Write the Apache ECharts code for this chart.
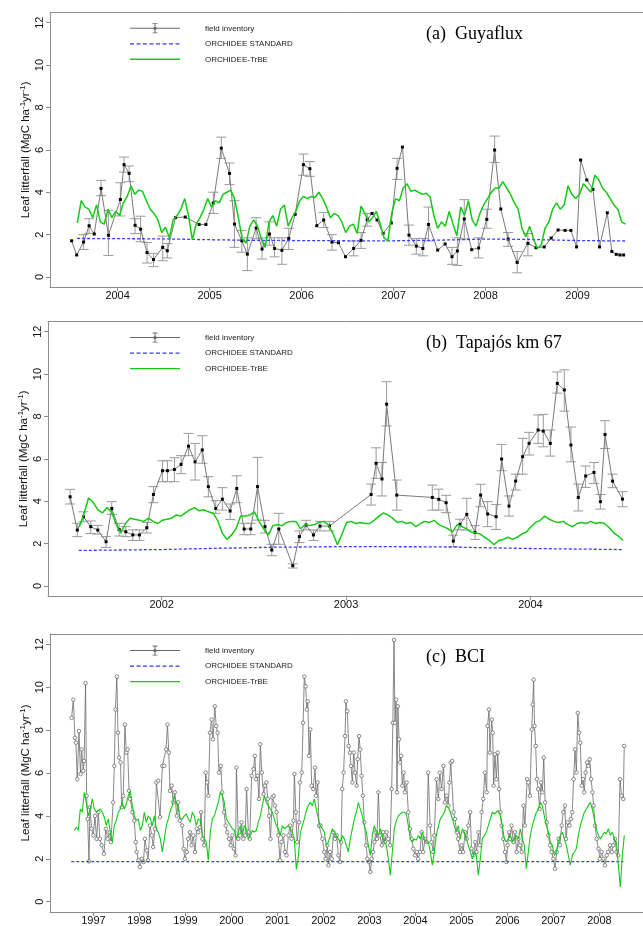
<!DOCTYPE html>
<html><head><meta charset="utf-8">
<script src="https://cdn.jsdelivr.net/npm/echarts@6/dist/echarts.min.js"></script>
<style>html,body{margin:0;padding:0;background:#fff}#c{width:643px;height:926px}</style>
</head><body><div id="c"></div>
<script>
// ---------- DATA ----------
const yTicks = [0, 2, 4, 6, 8, 10, 12];
const yearTicksA = [2004, 2005, 2006, 2007, 2008, 2009];
const yearTicksB = [2002, 2003, 2004];
const yearTicksC = [1997, 1998, 1999, 2000, 2001, 2002, 2003, 2004, 2005, 2006, 2007, 2008];

// (a) Guyaflux field inventory
const yearsA = [2003.50,2003.555,2003.63,2003.69,2003.746,2003.82,2003.90,2004.03,2004.07,2004.125,2004.19,2004.25,2004.32,2004.39,2004.49,2004.54,2004.63,2004.735,2004.886,2004.96,2005.04,2005.127,2005.216,2005.27,2005.35,2005.41,2005.506,2005.57,2005.65,2005.706,2005.786,2005.86,2005.93,2006.02,2006.09,2006.165,2006.24,2006.33,2006.40,2006.477,2006.566,2006.646,2006.713,2006.766,2006.82,2006.886,2006.975,2007.038,2007.096,2007.167,2007.247,2007.318,2007.38,2007.479,2007.56,2007.635,2007.693,2007.768,2007.849,2007.924,2008.013,2008.098,2008.165,2008.245,2008.343,2008.46,2008.548,2008.637,2008.713,2008.788,2008.864,2008.927,2008.989,2009.033,2009.10,2009.167,2009.238,2009.323,2009.372,2009.42,2009.46,2009.50];
const valsA = [1.71,1.04,1.65,2.42,2.03,4.18,1.97,3.66,5.30,4.89,2.44,2.26,1.16,0.82,1.40,1.24,2.81,2.83,2.48,2.48,3.49,6.08,4.89,2.5,1.71,1.08,2.31,1.32,2.03,1.35,1.26,1.82,2.96,5.30,5.11,2.42,2.69,1.65,1.62,0.96,1.35,1.73,2.72,3.0,2.69,2.06,2.55,5.13,6.13,1.98,1.46,1.35,2.48,1.27,1.56,0.96,1.23,2.74,1.29,1.37,2.72,5.99,3.21,1.79,0.69,1.59,1.38,1.42,1.84,2.22,2.2,2.2,1.42,5.52,4.58,4.14,1.42,3.03,1.21,1.07,1.04,1.04];
const loA = [null,null,1.3,2.06,null,3.84,1.02,2.88,4.95,4.5, 2.05,1.66,0.66,0.49,0.77,0.9,null,null,null,null, 3.0,5.6,4.36,1.4,1.17,0.3,1.8,0.85,1.5,0.95, 0.6,1.3,null,4.8,4.75,null,2.33,1.27,null,null, 1.0,1.35,2.4,null,null,null,null,4.6,null,1.5, 1.08,1.0,1.7,null,null,0.6,0.55,1.8,null,0.9, 2.3,5.4,null,1.45,0.2,1.0, null,null,null,null,null,null,null,null,null,null,null,null,null,null,null,null];
const hiA = [null,null,2.0,2.75,null,4.56,3.13,4.45,5.66,5.24, 2.75,2.87,1.63,1.12,1.93,1.58,null,null,null,null, 4.0,6.6,5.38,3.6,2.2,1.85,2.8,1.85,2.6,1.85, 1.85,2.3,null,5.8,5.45,null,3.05,2.0,null,null, 1.7,2.1,3.0,null,null,null,null,5.6,null,2.45, 1.82,1.82,3.3,null,null,1.4,1.85,3.65,null,1.85, 3.2,6.65,null,2.1,1.2,2.05, null,null,null,null,null,null,null,null,null,null,null,null,null,null,null,null];

// (b) Tapajos km 67 field inventory
const yearsB = [2001.503,2001.542,2001.575,2001.615,2001.653,2001.698,2001.729,2001.769,2001.805,2001.843,2001.879,2001.919,2001.955,2002.004,2002.031,2002.069,2002.105,2002.145,2002.181,2002.22,2002.253,2002.293,2002.329,2002.371,2002.407,2002.447,2002.483,2002.52,2002.56,2002.597,2002.635,2002.711,2002.747,2002.783,2002.823,2002.859,2002.91,2003.136,2003.163,2003.195,2003.22,2003.275,2003.468,2003.503,2003.543,2003.582,2003.618,2003.655,2003.70,2003.73,2003.768,2003.814,2003.844,2003.884,2003.92,2003.958,2003.993,2004.042,2004.07,2004.108,2004.146,2004.184,2004.22,2004.26,2004.30,2004.345,2004.38,2004.405,2004.446,2004.50];
const valsB = [4.21,2.64,3.27,2.8,2.64,2.09,3.66,2.67,2.56,2.41,2.41,2.75,4.32,5.44,5.44,5.5,5.74,6.6,5.86,6.42,4.69,3.66,4.1,3.54,4.6,2.69,2.69,4.69,2.8,1.7,2.69,0.96,2.33,2.88,2.41,2.83,2.83,4.32,5.79,5.05,8.58,4.29,4.18,4.09,3.93,2.12,2.91,3.38,2.52,4.29,3.4,3.27,5.99,3.77,4.95,6.1,6.73,7.36,7.31,6.73,9.56,9.25,6.65,4.18,5.19,5.36,3.98,7.15,4.95,4.1];
const loB = [3.87,2.33,3.03,2.48,2.45,1.82,3.38,2.36,2.33,2.15,2.15,2.5,3.93,4.92,4.92,4.92,5.3,6.15,5.0,5.79,4.21,3.43,3.58,3.14,3.93,2.42,2.42,3.11,2.5,1.43,1.97,0.85,2.05,2.65,2.15,2.6,2.6,3.82,5.08,4.25,7.55,3.58,3.58,3.58,3.46,1.86,2.65,2.64,2.2,3.74,2.8,2.67,5.44,3.3,4.53,5.28,6.18,6.73,6.57,6.13,9.1,8.25,5.86,3.54,4.65,4.84,3.63,6.49,4.64,3.74];
const hiB = [4.56,2.96,3.5,3.07,2.86,2.33,3.98,2.96,2.8,2.65,2.65,3.0,4.69,5.91,5.91,6.05,6.15,7.2,6.73,7.09,5.16,4.03,4.64,3.87,5.2,2.96,2.96,6.07,3.1,1.97,3.43,1.05,2.6,3.1,2.65,3.05,3.05,4.81,6.52,5.83,9.64,5.0,4.76,4.57,4.28,2.4,3.15,4.14,2.85,4.8,3.98,3.85,6.68,4.25,5.28,6.97,7.25,8.07,8.1,7.36,10.1,10.2,7.5,4.81,5.66,5.83,4.32,7.8,5.28,4.45];

// (c) BCI field inventory [year, value]
const fieldC = [
[1996.527,8.57],[1996.564,9.42],[1996.60,7.64],[1996.62,7.41],[1996.65,5.71],[1996.687,7.95],[1996.72,5.95],[1996.745,7.1],[1996.78,6.1],[1996.80,6.56],
[1996.83,10.19],[1996.853,4.94],[1996.875,3.86],[1996.905,1.88],[1996.926,4.4],[1996.96,3.4],[1997.0,3.09],[1997.035,4.0],[1997.07,2.93],[1997.107,4.17],
[1997.14,2.93],[1997.18,2.63],[1997.23,2.24],[1997.27,3.4],[1997.31,2.93],[1997.35,3.24],[1997.38,2.78],[1997.43,4.63],[1997.455,6.33],[1997.48,8.96],
[1997.51,10.5],[1997.535,7.88],[1997.557,6.72],[1997.59,6.49],[1997.615,4.4],[1997.65,4.94],[1997.686,8.26],[1997.717,6.95],[1997.745,7.1],[1997.775,5.17],
[1997.80,4.79],[1997.85,4.17],[1997.89,3.78],[1997.92,2.78],[1997.94,2.32],[1997.98,1.93],[1998.01,1.62],[1998.05,2.0],[1998.09,1.85],[1998.12,2.93],
[1998.16,2.39],[1998.19,1.93],[1998.23,3.55],[1998.27,3.09],[1998.30,2.55],[1998.34,3.4],[1998.37,5.56],[1998.41,5.64],[1998.45,3.94],[1998.50,6.33],
[1998.54,6.33],[1998.58,7.1],[1998.61,8.26],[1998.64,6.95],[1998.665,5.17],[1998.70,5.41],[1998.735,4.63],[1998.77,5.1],[1998.81,4.0],[1998.845,4.63],
[1998.88,3.78],[1998.93,3.55],[1998.96,2.47],[1998.99,2.0],[1999.03,2.32],[1999.06,2.93],[1999.10,3.24],[1999.135,2.63],[1999.17,3.09],[1999.21,2.32],
[1999.245,3.4],[1999.28,3.24],[1999.32,3.47],[1999.34,4.17],[1999.37,2.93],[1999.41,2.63],[1999.44,6.02],[1999.47,5.56],[1999.50,4.94],[1999.535,7.88],
[1999.57,8.49],[1999.60,7.57],[1999.64,9.11],[1999.67,8.19],[1999.70,7.88],[1999.73,6.02],[1999.77,6.33],[1999.80,5.1],[1999.84,4.17],[1999.875,3.55],
[1999.91,3.24],[1999.95,2.93],[1999.985,2.63],[2000.02,3.09],[2000.055,2.47],[2000.09,2.16],[2000.11,6.25],[2000.15,2.93],[2000.19,3.09],[2000.22,3.7],
[2000.26,2.93],[2000.30,3.09],[2000.33,5.25],[2000.37,3.24],[2000.40,2.93],[2000.44,5.87],[2000.48,6.18],[2000.51,6.8],[2000.535,5.71],[2000.57,5.87],
[2000.60,4.79],[2000.63,7.34],[2000.66,6.02],[2000.70,5.02],[2000.73,5.41],[2000.76,5.56],[2000.79,4.79],[2000.82,4.0],[2000.85,2.93],[2000.89,4.86],
[2000.92,4.94],[2000.95,4.48],[2000.985,4.17],[2001.02,3.09],[2001.057,1.93],[2001.09,2.78],[2001.13,3.09],[2001.165,2.32],[2001.20,2.16],[2001.24,3.09],
[2001.275,3.55],[2001.31,2.93],[2001.35,3.78],[2001.37,5.95],[2001.40,4.17],[2001.43,2.78],[2001.47,3.7],[2001.49,5.56],[2001.53,6.02],[2001.56,8.34],
[2001.585,10.5],[2001.615,10.04],[2001.64,8.96],[2001.66,9.34],[2001.69,6.8],[2001.716,8.03],[2001.745,5.41],[2001.78,5.25],[2001.82,6.25],[2001.84,4.94],
[2001.876,5.56],[2001.905,3.55],[2001.94,3.55],[2001.978,2.93],[2002.02,2.32],[2002.05,2.0],[2002.086,2.63],[2002.11,1.7],[2002.145,2.32],[2002.18,2.0],
[2002.22,3.24],[2002.25,2.93],[2002.29,3.09],[2002.325,2.16],[2002.36,1.85],[2002.385,2.78],[2002.41,5.25],[2002.44,6.02],[2002.47,7.72],[2002.49,9.34],
[2002.52,8.88],[2002.55,7.26],[2002.58,6.95],[2002.60,6.33],[2002.63,5.56],[2002.66,6.95],[2002.69,6.02],[2002.725,5.41],[2002.745,6.64],[2002.775,7.72],
[2002.80,7.1],[2002.83,5.87],[2002.86,4.94],[2002.89,3.7],[2002.93,2.63],[2002.955,2.0],[2002.99,1.85],[2003.02,1.39],[2003.05,2.0],[2003.08,2.32],
[2003.11,2.78],[2003.14,3.24],[2003.165,2.93],[2003.195,5.1],[2003.23,3.09],[2003.27,2.63],[2003.30,3.24],[2003.34,2.78],[2003.375,3.24],[2003.41,2.93],
[2003.45,2.63],[2003.485,5.25],[2003.51,8.34],[2003.535,12.2],[2003.557,8.34],[2003.58,9.42],[2003.60,5.1],[2003.62,9.11],[2003.645,7.57],[2003.665,6.49],
[2003.69,6.8],[2003.716,5.41],[2003.745,6.02],[2003.77,5.1],[2003.81,5.56],[2003.846,4.17],[2003.88,3.4],[2003.92,2.93],[2003.955,2.47],[2003.99,2.16],
[2004.03,2.32],[2004.06,2.0],[2004.10,2.32],[2004.136,3.24],[2004.17,2.32],[2004.21,2.93],[2004.245,2.78],[2004.28,6.02],[2004.32,3.55],[2004.35,2.78],
[2004.39,2.32],[2004.41,3.09],[2004.46,5.71],[2004.50,4.79],[2004.53,6.02],[2004.57,5.25],[2004.61,6.33],[2004.64,4.63],[2004.68,4.94],[2004.715,4.48],
[2004.74,5.56],[2004.77,6.49],[2004.80,6.56],[2004.83,4.17],[2004.86,3.86],[2004.90,3.24],[2004.93,2.93],[2004.97,2.32],[2005.005,2.63],[2005.04,2.32],
[2005.08,3.24],[2005.115,2.93],[2005.15,3.55],[2005.19,4.17],[2005.22,2.47],[2005.26,2.16],[2005.30,2.78],[2005.33,2.32],[2005.37,3.24],[2005.40,2.63],
[2005.44,4.17],[2005.476,4.79],[2005.51,6.02],[2005.55,5.1],[2005.57,8.19],[2005.60,8.96],[2005.62,6.95],[2005.66,8.49],[2005.68,7.88],[2005.70,5.41],
[2005.73,6.87],[2005.76,5.71],[2005.79,6.95],[2005.82,5.25],[2005.85,4.17],[2005.875,3.55],[2005.91,2.93],[2005.95,2.32],[2005.98,1.85],[2006.006,2.63],
[2006.035,3.24],[2006.06,2.93],[2006.09,3.55],[2006.13,2.78],[2006.165,3.24],[2006.20,2.32],[2006.24,2.93],[2006.27,2.63],[2006.31,2.32],[2006.35,4.48],
[2006.38,3.55],[2006.43,5.71],[2006.455,5.56],[2006.49,4.94],[2006.53,8.03],[2006.55,9.19],[2006.57,10.35],[2006.59,8.19],[2006.615,7.26],[2006.64,5.71],
[2006.67,5.25],[2006.70,4.32],[2006.73,5.56],[2006.76,5.1],[2006.79,6.72],[2006.82,4.63],[2006.855,3.7],[2006.89,3.09],[2006.93,2.63],[2006.96,2.32],
[2007.0,2.0],[2007.035,1.54],[2007.07,2.32],[2007.11,2.93],[2007.14,2.63],[2007.18,3.55],[2007.215,4.17],[2007.25,4.48],[2007.275,2.93],[2007.31,3.7],
[2007.35,3.55],[2007.38,3.86],[2007.41,4.17],[2007.44,5.71],[2007.47,7.1],[2007.50,6.02],[2007.53,8.8],[2007.56,7.88],[2007.585,7.41],[2007.615,5.41],
[2007.645,5.71],[2007.67,5.1],[2007.70,6.02],[2007.73,6.49],[2007.76,6.33],[2007.79,6.64],[2007.82,5.71],[2007.85,5.1],[2007.875,4.48],[2007.905,3.55],
[2007.94,2.93],[2007.98,2.47],[2008.01,2.0],[2008.05,2.32],[2008.085,2.0],[2008.12,1.7],[2008.16,2.16],[2008.19,2.32],[2008.23,2.63],[2008.27,2.32],
[2008.30,2.63],[2008.34,2.93],[2008.375,2.32],[2008.41,2.16],[2008.45,5.71],[2008.48,4.94],[2008.52,4.79],[2008.54,7.26]
];

// ORCHIDEE-TrBE (regular time steps)
const greenAStart = 2003.5625, greenAStep = 1/24;
const greenA = [2.55,3.6,3.3,3.2,2.8,3.4,2.6,2.5,3.2,2.8, 3.1,2.9,3.5,3.8,4.3,3.9,4.1,4.05,3.6,3.2, 3.0,2.7,2.1,2.35,1.85,2.7,2.9,3.2,3.7,2.9, 1.75,2.5,2.8,3.2,3.7,3.3,3.6,3.5,3.9,4.0, 4.1,3.7,2.8,1.8,1.6,2.4,2.7,2.4,1.8,1.4, 2.6,2.9,2.4,3.2,3.4,2.4,2.8,3.1,3.6,3.8, 3.7,3.8,3.75,4.0,3.7,3.3,2.8,3.0,2.9,2.6, 2.1,2.4,2.5,2.05,3.35,3.0,2.6,2.8,3.1,2.5, 1.85,1.7,3.0,3.7,3.6,4.2,4.4,4.05,4.1,4.0, 3.9,3.95,3.8,2.9,2.3,2.6,2.4,3.1,2.5,1.95, 3.3,2.9,3.6,2.7,2.4,3.0,3.4,3.7,4.0,4.2, 4.2,4.5,4.2,3.9,3.5,3.2,2.3,1.9,2.4,1.8, 1.35,1.5,2.3,2.6,3.2,3.5,3.2,3.4,4.3,3.9, 3.7,3.9,4.4,4.2,4.0,4.8,4.6,4.2,4.0,3.7, 3.4,3.2,2.6,2.5];
const greenBStart = 2001.553, greenBStep = 0.025;
const greenB = [2.8,3.4,4.15,3.95,3.6,3.45,3.7,3.5,2.9,2.5, 2.95,3.2,3.15,3.1,3.05,3.2,3.05,2.95,3.1,3.15, 3.2,3.35,3.3,3.45,3.6,3.7,3.55,3.6,3.5,3.45, 3.1,2.5,2.2,2.4,2.7,3.3,3.3,3.35,3.5,3.05, 2.7,2.4,2.85,2.9,2.85,3.0,3.05,3.05,2.7,2.9, 2.85,2.9,3.0,3.05,2.9,2.5,1.95,2.45,3.0,3.05, 2.95,3.0,2.95,2.95,3.1,3.3,3.45,3.35,3.2,3.0, 3.05,2.95,3.0,2.8,2.95,3.05,3.0,3.1,2.9,2.8, 2.7,2.55,2.9,2.8,2.7,2.55,2.5,2.45,2.3,2.15, 1.95,2.15,2.2,2.3,2.2,2.3,2.45,2.55,2.8,3.0, 3.1,3.3,3.15,3.05,3.0,3.05,2.9,2.8,2.95,3.0, 2.95,3.05,2.95,3.0,2.95,2.75,2.5,2.35,2.15];
const greenCStart = 1996.5855, greenCStep = 1/23;
const greenC = [3.32,3.47,3.32,4.32,4.17,5.1,4.63,4.0,4.32,4.79, 4.32,4.17,4.25,4.32,4.17,3.94,3.55,3.86,3.24,2.78, 3.55,3.78,4.17,4.32,4.63,4.32,4.56,4.94,5.17,4.48, 4.0,3.78,3.86,3.32,3.55,4.17,3.7,4.0,3.86,3.55, 4.0,3.4,3.24,2.93,2.32,2.93,3.55,3.86,4.25,4.48, 4.94,4.63,4.32,3.86,3.86,4.0,4.09,3.86,3.7,4.17, 4.0,3.55,3.86,3.78,3.09,2.93,2.78,1.93,3.24,3.86, 4.0,4.32,4.63,5.1,4.94,4.63,3.86,3.7,3.55,3.4, 3.32,2.93,3.24,3.55,3.09,3.55,3.4,2.93,3.09,3.32, 3.24,3.32,3.7,4.0,4.48,4.94,4.63,4.48,4.32,4.17, 3.86,3.55,3.4,3.09,3.55,3.4,3.47,3.55,3.4,3.24, 2.93,1.5,2.1,3.2,3.55,3.86,4.25,4.48,4.63,4.48, 4.79,4.32,3.86,3.55,3.4,3.24,2.63,2.78,3.09,3.4, 3.24,3.09,2.93,2.78,3.09,2.93,2.63,2.32,2.93,3.4, 3.86,4.17,4.63,4.32,4.0,3.55,3.24,2.63,2.16,3.09, 3.55,3.24,3.09,3.4,3.09,2.78,2.63,2.0,1.24,2.32, 3.4,3.78,4.0,4.09,4.17,4.17,4.09,3.55,2.93,2.78, 2.93,2.86,3.09,2.93,3.24,2.93,2.78,2.78,2.32,1.7, 2.32,3.1,3.5,3.86,4.0,4.17,4.48,4.4,4.17,3.86, 3.55,3.24,3.55,2.93,3.4,3.24,2.93,2.63,2.32,2.0, 2.32,2.16,1.24,2.0,2.93,3.09,3.24,3.55,3.86,4.17, 4.09,4.17,4.25,4.0,3.55,2.93,2.78,2.93,3.09,2.78, 2.93,3.09,2.93,3.4,2.93,2.63,1.54,2.32,3.09,3.55, 3.86,4.17,4.32,4.63,4.48,4.0,3.55,3.24,2.78,2.63, 2.16,2.32,2.78,3.09,3.24,2.93,2.63,2.16,1.7,2.16, 2.32,2.47,3.09,3.55,3.86,4.17,4.32,4.48,4.63,4.32, 3.86,3.4,3.09,2.93,3.09,3.24,3.17,3.4,3.09,3.24, 2.93,2.78,1.7,0.69,2.16,3.09];

// ORCHIDEE STANDARD
const blueA = [[2003.56,1.82],[2004.0,1.81],[2004.5,1.8],[2005.0,1.76],[2005.5,1.73],[2006.0,1.72],[2006.5,1.71],[2007.0,1.71],[2007.5,1.74],[2008.0,1.79],[2008.5,1.77],[2009.0,1.72],[2009.52,1.70]];
const blueB = [[2001.55,1.68],[2002.0,1.72],[2002.3,1.78],[2002.6,1.83],[2003.0,1.86],[2003.5,1.85],[2003.8,1.8],[2004.0,1.77],[2004.5,1.72]];
const blueC = [[1996.52,1.87],[2008.52,1.87]];

// ---------- CHART ----------
const FONT = 'Liberation Sans';
const frame = '#8c8c8c';
const panels = [
  {left:50, top:12.5, height:274.7, xmin:2003.265, xmax:2009.711, ticks:yearTicksA, title:'(a)  Guyaflux', legTop:23.3, titleY:25, greenW:1.5},
  {left:48, top:321.5, height:274.7, xmin:2001.383, xmax:2004.611, ticks:yearTicksB, title:'(b)  Tapajós km 67', legTop:332.6, titleY:334, greenW:1.5},
  {left:50, top:634, height:279.7, xmin:1996.057, xmax:2008.948, ticks:yearTicksC, title:'(c)  BCI', legTop:645.6, titleY:648, greenW:1.1}
];

// legend icons (50 x 10 boxes; corner specks fix the bounding box)
const box = 'M0,0H0.01V0.01H0Z M49.99,9.99H50V10H49.99Z ';
const errIcon = 'path://' + box + 'M0,4.5H50V5.5H0Z M24.5,0H25.5V10H24.5Z M22.5,0H27.5V0.8H22.5Z M22.5,9.2H27.5V10H22.5Z M23.6,3.6H26.4V6.4H23.6Z';
const dashIcon = 'path://' + box + 'M0,4.4H4V5.6H0Z M6.5,4.4H10.5V5.6H6.5Z M13,4.4H17V5.6H13Z M19.5,4.4H23.5V5.6H19.5Z M26,4.4H30V5.6H26Z M32.5,4.4H36.5V5.6H32.5Z M39,4.4H43V5.6H39Z M45.5,4.4H49.5V5.6H45.5Z';
const solidIcon = 'path://' + box + 'M0,4.3H50V5.7H0Z';

function pairs(xs, vs){ return xs.map((x,i)=>[x, vs[i]]); }
function errPairs(xs, lo, hi){ const out=[]; xs.forEach((x,i)=>{ if(lo[i]!=null) out.push([x, lo[i], hi[i]]); }); return out; }
function regular(start, step, vs){ return vs.map((v,i)=>[start + i*step, v]); }

function renderErr(params, api){
  const x = api.value(0), lo = api.value(1), hi = api.value(2);
  const p1 = api.coord([x, lo]), p2 = api.coord([x, hi]);
  const w = 5;
  const style = {stroke:'#9a9a9a', lineWidth:1};
  return {type:'group', children:[
    {type:'line', shape:{x1:p1[0], y1:p1[1], x2:p2[0], y2:p2[1]}, style},
    {type:'line', shape:{x1:p1[0]-w, y1:p1[1], x2:p1[0]+w, y2:p1[1]}, style},
    {type:'line', shape:{x1:p2[0]-w, y1:p2[1], x2:p2[0]+w, y2:p2[1]}, style}
  ]};
}

const grid = panels.map(p=>({left:p.left, right:0, top:p.top, height:p.height, containLabel:false}));
const xAxis = [];
panels.forEach((p,i)=>{
  xAxis.push({type:'value', gridIndex:i, min:p.xmin, max:p.xmax, position:'bottom',
    axisLine:{show:true, onZero:false, lineStyle:{color:frame, width:1}},
    axisTick:{show:true, length:4, lineStyle:{color:frame}, customValues:p.ticks},
    axisLabel:{show:true, margin:3, fontSize:11, fontFamily:FONT, color:'#111', customValues:p.ticks, formatter:v=>String(Math.round(v))},
    splitLine:{show:false}});
});
panels.forEach((p,i)=>{
  xAxis.push({type:'value', gridIndex:i, min:p.xmin, max:p.xmax, position:'top',
    axisLine:{show:true, onZero:false, lineStyle:{color:frame, width:1}},
    axisTick:{show:false}, axisLabel:{show:false}, splitLine:{show:false}});
});
const yAxis = panels.map((p,i)=>({type:'value', gridIndex:i, min:-0.48, max:12.48,
  name:'Leaf litterfall (MgC ha{s|-1}yr{s|-1})', nameLocation:'middle', nameGap:17, nameMoveOverlap:false,
  nameTextStyle:{fontSize:11.5, fontFamily:FONT, color:'#111', lineHeight:14, rich:{s:{fontSize:8, fontFamily:FONT, verticalAlign:'top', lineHeight:14, color:'#111'}}},
  axisLine:{show:true, onZero:false, lineStyle:{color:frame, width:1}},
  axisTick:{show:true, length:4, lineStyle:{color:frame}, customValues:yTicks},
  axisLabel:{show:true, rotate:90, margin:4.5, fontSize:11, fontFamily:FONT, color:'#111', customValues:yTicks},
  splitLine:{show:false}}));

const fieldA = pairs(yearsA, valsA), fieldB = pairs(yearsB, valsB);
const series = [];
const fieldSets = [fieldA, fieldB, fieldC];
const errSets = [errPairs(yearsA, loA, hiA), errPairs(yearsB, loB, hiB), null];
const blueSets = [blueA, blueB, blueC];
const greenSets = [regular(greenAStart, greenAStep, greenA), regular(greenBStart, greenBStep, greenB), regular(greenCStart, greenCStep, greenC)];

[0,1,2].forEach(i=>{
  if (errSets[i]) series.push({type:'custom', name:'err'+i, xAxisIndex:i, yAxisIndex:i, renderItem:renderErr,
    encode:{x:0, y:[1,2]}, data:errSets[i], silent:true, z:2});
  const isC = i===2;
  series.push({type:'line', name:'field inventory', xAxisIndex:i, yAxisIndex:i, data:fieldSets[i],
    symbol: isC ? 'circle' : 'rect', symbolSize: isC ? 3.5 : 3, showSymbol:true,
    lineStyle:{color: isC ? '#6a6a6a' : '#7a7a7a', width: isC ? 0.8 : 1},
    itemStyle: isC ? {color:'#ffffff', borderColor:'#6a6a6a', borderWidth:0.8} : {color:'#000'},
    z:3, silent:true});
  series.push({type:'line', name:'ORCHIDEE STANDARD', xAxisIndex:i, yAxisIndex:i, data:blueSets[i], symbol:'none',
    lineStyle:{color:'#3a3aff', width:1.3, type:[3,2]}, itemStyle:{color:'#3a3aff'}, z:4, silent:true});
  series.push({type:'line', name:'ORCHIDEE-TrBE', xAxisIndex:i, yAxisIndex:i, data:greenSets[i], symbol:'none',
    lineStyle:{color:'#16c916', width:panels[i].greenW}, itemStyle:{color:'#16c916'}, z:5, silent:true});
});

const legend = panels.map(p=>({orient:'vertical', left:130, top:p.legTop, itemWidth:50, itemHeight:10, itemGap:5.5, padding:0,
  selectedMode:false, textStyle:{fontSize:8, fontFamily:FONT, color:'#222', padding:[0,0,0,20], lineHeight:10},
  data:[{name:'field inventory', icon:errIcon, itemStyle:{color:'#6a6a6a'}},
        {name:'ORCHIDEE STANDARD', icon:dashIcon, itemStyle:{color:'#3a3aff'}},
        {name:'ORCHIDEE-TrBE', icon:solidIcon, itemStyle:{color:'#16c916'}}]}));

const title = panels.map(p=>({text:p.title, left:426, top:p.titleY, padding:0,
  textStyle:{fontFamily:'Liberation Serif', fontSize:18, fontWeight:'normal', color:'#000'}}));

const chart = echarts.init(document.getElementById('c'), null, {renderer:'canvas'});
chart.setOption({animation:false, backgroundColor:'#fff', grid, xAxis, yAxis, series, legend, title});
</script></body></html>
